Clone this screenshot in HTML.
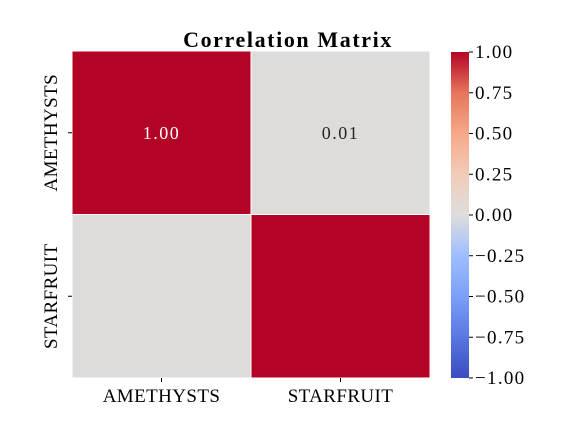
<!DOCTYPE html>
<html><head><meta charset="utf-8"><style>
body{margin:0;background:#fff}
svg{display:block;font-family:"Liberation Serif",serif}
</style></head><body>
<svg id="c" width="576" height="432" xmlns="http://www.w3.org/2000/svg">
<defs><linearGradient id="cw" x1="0" y1="1" x2="0" y2="0">
<stop offset="0" stop-color="#3b4cc0"/><stop offset="0.125" stop-color="#5977e3"/>
<stop offset="0.25" stop-color="#7b9ff9"/><stop offset="0.375" stop-color="#9ebeff"/>
<stop offset="0.5" stop-color="#dddddd"/><stop offset="0.625" stop-color="#f2cbb7"/>
<stop offset="0.75" stop-color="#f7a889"/><stop offset="0.875" stop-color="#e7745b"/>
<stop offset="1" stop-color="#b40426"/></linearGradient></defs>
<text x="288" y="47" text-anchor="middle" font-size="22" font-weight="bold" letter-spacing="1.6">Correlation Matrix</text>
<g id="cells"></g>
<rect x="451" y="52" width="18" height="326" fill="url(#cw)"/>
<g id="cb" font-size="19" letter-spacing="1.3"></g>
</svg>
<script>
const labels=["AMETHYSTS","STARFRUIT"];
const row0=[1.00,0.01];
const row1=[0.01,1.00];
const showAnnot=[[true,true],[false,false]];
const cbTicks=[1.00,0.75,0.50,0.25,0.00,-0.25,-0.50,-0.75,-1.00];
const vals=[row0,row1];
const NS="http://www.w3.org/2000/svg";
const X0=72,Y0=51,CW=179,CH=163.5;
function color(v){
 const stops=[[-1,[59,76,192]],[-0.75,[89,119,227]],[-0.5,[123,159,249]],[-0.25,[158,190,255]],[0,[221,221,221]],[0.25,[242,203,183]],[0.5,[247,168,137]],[0.75,[231,116,91]],[1,[180,4,38]]];
 for(let i=0;i<stops.length-1;i++){const [a,ca]=stops[i],[b,cb]=stops[i+1];
  if(v<=b){const t=(v-a)/(b-a);return "rgb("+ca.map((c,k)=>Math.round(c+(cb[k]-c)*t)).join(",")+")";}}
 return "rgb(180,4,38)";
}
function mk(t,a,p){const e=document.createElementNS(NS,t);for(const k in a)e.setAttribute(k,a[k]);(p||document.getElementById("c")).appendChild(e);return e;}
const g=document.getElementById("cells");
vals.forEach((r,i)=>r.forEach((v,j)=>{
 const rc=mk("rect",{x:X0+j*CW,y:Y0+i*CH,width:CW,height:CH,fill:color(v),stroke:"#fff","stroke-width":1},g);
 
 
 if(showAnnot[i][j]){
  const t=mk("text",{x:X0+j*CW+CW/2,y:Y0+i*CH+CH/2+6,"text-anchor":"middle","font-size":18,"letter-spacing":1.5,fill:Math.abs(v)>0.5?"#fff":"#262626"},g);
  t.textContent=v.toFixed(2);
  
  
 }
}));
labels.forEach((l,i)=>{
 const cx=X0+i*CW+CW/2;
 mk("line",{x1:cx,y1:378,x2:cx,y2:382,stroke:"#000"});
 const t=mk("text",{x:cx,y:402,"text-anchor":"middle","font-size":19,"letter-spacing":0.4});t.textContent=l;
 
 
 const cy=Y0+i*CH+CH/2;
 mk("line",{x1:68,y1:cy,x2:72,y2:cy,stroke:"#000"});
 const ty=mk("text",{x:57,y:cy,"text-anchor":"middle","font-size":19,"letter-spacing":0.4,transform:"rotate(-90 57 "+cy+")"});ty.textContent=l;
 
 
});
const cb=document.getElementById("cb");
cbTicks.forEach(v=>{
 const y=52+(1-v)/2*326;
 mk("line",{x1:469,y1:y,x2:473,y2:y,stroke:"#000"},cb);
 const t=mk("text",{x:475,y:y+6},cb);t.textContent=(v<0?"\u2212":"")+Math.abs(v).toFixed(2);
 
 
});
</script>
</body></html>
